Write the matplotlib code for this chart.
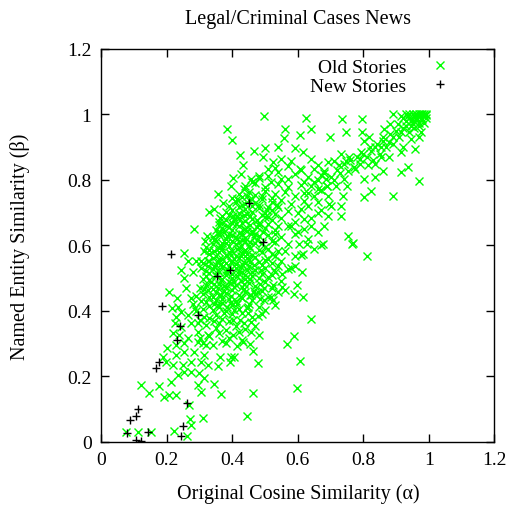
import numpy as np
import matplotlib
matplotlib.use('Agg')
import matplotlib.pyplot as plt

plt.rcParams['font.family'] = ['Liberation Serif', 'DejaVu Serif']

# new stories (black +)
new_stories = [(0.213, 0.574), (0.495, 0.611), (0.352, 0.507), (0.393, 0.525), (0.186, 0.416),
               (0.295, 0.388), (0.241, 0.355), (0.232, 0.312), (0.177, 0.245), (0.166, 0.226),
               (0.263, 0.118), (0.111, 0.100), (0.088, 0.065), (0.105, 0.077), (0.079, 0.027),
               (0.144, 0.029), (0.250, 0.047), (0.243, 0.018), (0.105, 0.006), (0.121, 0.001),
               (0.451, 0.730)]

# old stories, sparse lower-left part
old_low = [(0.121, 0.173), (0.147, 0.148), (0.177, 0.171), (0.192, 0.136), (0.208, 0.143),
           (0.228, 0.143), (0.269, 0.112), (0.272, 0.068), (0.274, 0.051), (0.310, 0.072),
           (0.075, 0.031), (0.111, 0.031), (0.152, 0.031), (0.223, 0.034), (0.262, 0.018),
           (0.201, 0.285), (0.187, 0.260), (0.208, 0.458), (0.231, 0.438), (0.216, 0.410),
           (0.243, 0.525), (0.225, 0.362), (0.218, 0.331), (0.238, 0.326), (0.252, 0.301),
           (0.228, 0.296), (0.198, 0.245), (0.218, 0.234), (0.233, 0.204), (0.253, 0.214),
           (0.213, 0.183), (0.249, 0.234), (0.274, 0.214), (0.304, 0.153), (0.294, 0.173),
           (0.315, 0.194), (0.299, 0.209), (0.274, 0.245), (0.304, 0.245), (0.325, 0.234),
           (0.284, 0.275), (0.253, 0.275), (0.228, 0.265), (0.264, 0.316), (0.294, 0.306),
           (0.320, 0.296), (0.315, 0.265), (0.294, 0.336), (0.325, 0.326), (0.243, 0.351),
           (0.274, 0.362), (0.264, 0.387), (0.243, 0.397), (0.228, 0.382), (0.259, 0.469),
           (0.253, 0.499), (0.279, 0.520), (0.304, 0.530), (0.233, 0.413), (0.274, 0.438)]

# old stories, sparse right of the core
old_mid = [(0.640, 0.375), (0.589, 0.324), (0.567, 0.298), (0.605, 0.248), (0.597, 0.163),
           (0.462, 0.148), (0.445, 0.079), (0.366, 0.145), (0.343, 0.176), (0.479, 0.240),
           (0.462, 0.277), (0.455, 0.299), (0.481, 0.326), (0.457, 0.336), (0.434, 0.304),
           (0.414, 0.293), (0.396, 0.260), (0.406, 0.260), (0.394, 0.243), (0.357, 0.232),
           (0.363, 0.260), (0.381, 0.301), (0.401, 0.326), (0.615, 0.443), (0.587, 0.451),
           (0.598, 0.479), (0.561, 0.464), (0.551, 0.472), (0.551, 0.512), (0.612, 0.520),
           (0.523, 0.433), (0.498, 0.433), (0.518, 0.443), (0.491, 0.389), (0.477, 0.385),
           (0.449, 0.413), (0.447, 0.392), (0.424, 0.372), (0.437, 0.362), (0.457, 0.367),
           (0.401, 0.372), (0.498, 0.469), (0.523, 0.479), (0.477, 0.458), (0.457, 0.448),
           (0.508, 0.504), (0.488, 0.525), (0.528, 0.525), (0.579, 0.530), (0.670, 0.601),
           (0.765, 0.604), (0.810, 0.568), (0.627, 0.604), (0.602, 0.604), (0.617, 0.574),
           (0.591, 0.568), (0.591, 0.538), (0.676, 0.604), (0.752, 0.630), (0.768, 0.606)]

# old stories, sparse upper part
old_up = [(0.328, 0.703), (0.282, 0.650), (0.323, 0.630), (0.317, 0.614), (0.252, 0.577),
          (0.315, 0.582), (0.266, 0.551), (0.289, 0.551), (0.304, 0.551), (0.325, 0.551),
          (0.498, 0.996), (0.625, 0.989), (0.383, 0.954), (0.398, 0.923), (0.561, 0.954),
          (0.557, 0.928), (0.605, 0.937), (0.640, 0.956), (0.423, 0.877), (0.465, 0.887),
          (0.501, 0.897), (0.540, 0.900), (0.592, 0.897), (0.617, 0.884), (0.493, 0.869),
          (0.434, 0.844), (0.427, 0.818), (0.401, 0.805), (0.396, 0.781), (0.457, 0.803),
          (0.355, 0.757), (0.371, 0.730), (0.413, 0.742), (0.435, 0.772), (0.363, 0.684),
          (0.401, 0.689), (0.343, 0.711), (0.549, 0.864), (0.579, 0.859), (0.640, 0.864),
          (0.650, 0.833), (0.605, 0.833), (0.539, 0.823), (0.508, 0.833), (0.482, 0.813),
          (0.518, 0.793), (0.569, 0.803), (0.620, 0.793), (0.661, 0.772), (0.383, 0.660),
          (0.362, 0.640), (0.347, 0.620), (0.444, 0.752), (0.459, 0.793), (0.525, 0.854)]

# old stories, diagonal band towards (1, 1)
old_band = [(0.734, 0.986), (0.795, 0.986), (0.698, 0.930), (0.747, 0.946), (0.795, 0.946),
            (0.890, 1.001), (0.915, 0.996), (0.864, 0.956), (0.905, 0.971), (0.930, 0.966),
            (0.940, 0.946), (0.915, 0.946), (0.976, 0.946), (0.971, 0.930), (0.946, 0.925),
            (0.890, 0.930), (0.879, 0.915), (0.859, 0.920), (0.854, 0.900), (0.834, 0.900),
            (0.823, 0.889), (0.803, 0.920), (0.818, 0.930), (0.920, 0.900), (0.956, 0.895),
            (0.915, 0.884), (0.879, 0.869), (0.854, 0.869), (0.936, 0.839), (0.915, 0.823),
            (0.969, 0.798), (0.890, 0.752), (0.859, 0.828), (0.834, 0.808), (0.803, 0.803),
            (0.834, 0.849), (0.813, 0.844), (0.791, 0.864), (0.793, 0.884), (0.803, 0.747),
            (0.823, 0.767), (0.773, 0.833), (0.757, 0.869), (0.732, 0.879), (0.711, 0.859),
            (0.727, 0.844), (0.747, 0.859), (0.752, 0.828), (0.742, 0.803), (0.717, 0.782),
            (0.691, 0.854), (0.681, 0.828), (0.686, 0.803), (0.737, 0.752), (0.691, 0.752),
            (0.696, 0.726), (0.732, 0.721), (0.732, 0.691), (0.691, 0.691),
            (0.62, 0.76), (0.64, 0.78), (0.66, 0.80), (0.68, 0.82), (0.70, 0.81), (0.72, 0.83),
            (0.74, 0.85), (0.76, 0.86), (0.78, 0.87), (0.80, 0.88), (0.82, 0.90), (0.84, 0.91),
            (0.86, 0.93), (0.88, 0.94), (0.90, 0.95), (0.92, 0.96), (0.71, 0.80), (0.73, 0.82),
            (0.77, 0.84), (0.79, 0.85), (0.81, 0.87), (0.85, 0.88), (0.87, 0.90), (0.89, 0.91),
            (0.91, 0.93), (0.65, 0.75), (0.67, 0.77), (0.69, 0.78), (0.63, 0.72), (0.66, 0.70),
            (0.62, 0.68), (0.64, 0.66), (0.60, 0.70), (0.58, 0.66), (0.60, 0.64), (0.63, 0.62),
            (0.66, 0.64), (0.68, 0.66), (0.70, 0.72), (0.75, 0.78), (0.83, 0.86), (0.88, 0.97)]

# old stories, near-identical pairs at (1, 1)
old_top = [(0.94, 0.99), (0.95, 1.0), (0.96, 1.0), (0.97, 1.0), (0.98, 1.0), (0.99, 1.0),
           (0.985, 0.995), (0.975, 0.99), (0.965, 0.985), (0.955, 0.98), (0.945, 0.98),
           (0.96, 0.99), (0.97, 0.975), (0.98, 0.985), (0.99, 0.99), (0.93, 0.98), (0.92, 0.99),
           (0.935, 0.995), (0.95, 0.97), (0.97, 0.965), (0.955, 0.96), (0.985, 0.975),
           (0.945, 0.965), (0.99, 0.998), (0.975, 1.0), (0.965, 0.998), (0.955, 0.995),
           (0.94, 1.0), (0.985, 1.0), (0.93, 1.0)]

# old stories, dense core
old_core = [(0.31, 0.302), (0.34, 0.296), (0.37, 0.308), (0.43, 0.311), (0.30, 0.318), (0.33, 0.324),
            (0.36, 0.331), (0.39, 0.318), (0.42, 0.334), (0.35, 0.347), (0.38, 0.341), (0.41, 0.352),
            (0.44, 0.345), (0.32, 0.356), (0.36, 0.362), (0.39, 0.368), (0.47, 0.352),
            (0.30, 0.372), (0.33, 0.379), (0.35, 0.386), (0.37, 0.374), (0.40, 0.389), (0.43, 0.392),
            (0.46, 0.380), (0.50, 0.402), (0.29, 0.398), (0.31, 0.405), (0.34, 0.401), (0.36, 0.412),
            (0.38, 0.398), (0.40, 0.418), (0.42, 0.406), (0.45, 0.421), (0.48, 0.413), (0.53, 0.418),
            (0.28, 0.422), (0.32, 0.428), (0.35, 0.432), (0.37, 0.424), (0.39, 0.436), (0.41, 0.429),
            (0.43, 0.438), (0.46, 0.432), (0.51, 0.441),
            (0.29, 0.446), (0.31, 0.452), (0.33, 0.441), (0.35, 0.458), (0.36, 0.447), (0.38, 0.455),
            (0.40, 0.462), (0.42, 0.449), (0.44, 0.458), (0.47, 0.452), (0.49, 0.461), (0.54, 0.456),
            (0.30, 0.471), (0.32, 0.478), (0.34, 0.468), (0.36, 0.482), (0.38, 0.474), (0.39, 0.488),
            (0.41, 0.479), (0.43, 0.472), (0.45, 0.486), (0.47, 0.476), (0.50, 0.488), (0.55, 0.492),
            (0.31, 0.498), (0.33, 0.494), (0.35, 0.505), (0.37, 0.497), (0.38, 0.508), (0.40, 0.501),
            (0.42, 0.512), (0.44, 0.496), (0.46, 0.506), (0.48, 0.499), (0.52, 0.509),
            (0.32, 0.521), (0.34, 0.528), (0.36, 0.517), (0.37, 0.534), (0.39, 0.522), (0.41, 0.531),
            (0.43, 0.519), (0.45, 0.536), (0.47, 0.524), (0.50, 0.531), (0.54, 0.538), (0.57, 0.528),
            (0.31, 0.545), (0.33, 0.552), (0.35, 0.541), (0.37, 0.558), (0.38, 0.546), (0.40, 0.553),
            (0.42, 0.561), (0.43, 0.544), (0.45, 0.556), (0.48, 0.549), (0.51, 0.558), (0.55, 0.552),
            (0.33, 0.572), (0.35, 0.566), (0.36, 0.579), (0.38, 0.571), (0.40, 0.582), (0.41, 0.568),
            (0.43, 0.577), (0.44, 0.586), (0.46, 0.571), (0.49, 0.579), (0.52, 0.574), (0.56, 0.582),
            (0.61, 0.571),
            (0.32, 0.596), (0.34, 0.603), (0.36, 0.592), (0.37, 0.608), (0.39, 0.597), (0.41, 0.604),
            (0.42, 0.591), (0.44, 0.612), (0.45, 0.599), (0.47, 0.607), (0.50, 0.596), (0.53, 0.611),
            (0.57, 0.603), (0.65, 0.588), (0.34, 0.624), (0.36, 0.631), (0.38, 0.619), (0.39, 0.636),
            (0.41, 0.626), (0.43, 0.634), (0.44, 0.621), (0.46, 0.638), (0.48, 0.627), (0.51, 0.633),
            (0.55, 0.624), (0.59, 0.636), (0.35, 0.648), (0.37, 0.654), (0.40, 0.646), (0.42, 0.659),
            (0.44, 0.651), (0.46, 0.645), (0.48, 0.662), (0.50, 0.652), (0.53, 0.647), (0.57, 0.658),
            (0.62, 0.649),
            (0.36, 0.672), (0.38, 0.678), (0.40, 0.667), (0.42, 0.683), (0.44, 0.674), (0.46, 0.681),
            (0.48, 0.669), (0.50, 0.686), (0.52, 0.676), (0.55, 0.682), (0.59, 0.671), (0.64, 0.684),
            (0.38, 0.701), (0.40, 0.709), (0.42, 0.698), (0.44, 0.712), (0.46, 0.703), (0.48, 0.714),
            (0.50, 0.699), (0.52, 0.708), (0.54, 0.717), (0.57, 0.704), (0.61, 0.712), (0.67, 0.708),
            (0.41, 0.731), (0.43, 0.724), (0.45, 0.738), (0.47, 0.728), (0.49, 0.741), (0.52, 0.733),
            (0.55, 0.739), (0.58, 0.727), (0.62, 0.736), (0.66, 0.731),
            (0.42, 0.756), (0.45, 0.762), (0.47, 0.753), (0.50, 0.767), (0.53, 0.758), (0.56, 0.764),
            (0.59, 0.752), (0.63, 0.761), (0.67, 0.768), (0.44, 0.782), (0.47, 0.789), (0.50, 0.779),
            (0.54, 0.786), (0.57, 0.777), (0.61, 0.784), (0.65, 0.792), (0.69, 0.781), (0.48, 0.806),
            (0.51, 0.812), (0.55, 0.803), (0.59, 0.817), (0.63, 0.809), (0.67, 0.814), (0.53, 0.836),
            (0.57, 0.842), (0.61, 0.831), (0.66, 0.846)]

# old stories, the most crowded middle of the core
old_core2 = [(0.33, 0.414), (0.355, 0.419), (0.385, 0.411), (0.415, 0.421), (0.445, 0.409),
             (0.34, 0.443), (0.37, 0.437), (0.395, 0.446), (0.425, 0.441), (0.455, 0.447), (0.485, 0.436),
             (0.325, 0.463), (0.355, 0.469), (0.375, 0.461), (0.405, 0.472), (0.435, 0.466),
             (0.465, 0.461), (0.52, 0.471),
             (0.335, 0.487), (0.365, 0.493), (0.395, 0.484), (0.425, 0.491), (0.455, 0.497), (0.485, 0.482),
             (0.33, 0.514), (0.35, 0.509), (0.38, 0.518), (0.40, 0.512), (0.42, 0.521), (0.44, 0.508),
             (0.46, 0.517), (0.49, 0.513), (0.53, 0.519),
             (0.345, 0.538), (0.365, 0.544), (0.39, 0.536), (0.41, 0.542), (0.44, 0.547), (0.465, 0.539),
             (0.49, 0.541), (0.52, 0.546),
             (0.34, 0.562), (0.36, 0.557), (0.385, 0.566), (0.405, 0.559), (0.425, 0.568), (0.445, 0.561),
             (0.47, 0.563), (0.50, 0.556), (0.53, 0.566),
             (0.345, 0.584), (0.37, 0.589), (0.39, 0.581), (0.415, 0.588), (0.435, 0.583), (0.455, 0.591),
             (0.48, 0.586), (0.51, 0.589), (0.54, 0.583),
             (0.35, 0.612), (0.38, 0.607), (0.40, 0.614), (0.42, 0.609), (0.43, 0.617), (0.455, 0.611),
             (0.475, 0.615), (0.49, 0.606), (0.52, 0.613),
             (0.355, 0.637), (0.375, 0.642), (0.40, 0.633), (0.42, 0.639), (0.445, 0.644), (0.47, 0.636),
             (0.495, 0.641), (0.53, 0.634),
             (0.36, 0.662), (0.39, 0.657), (0.41, 0.664), (0.43, 0.668), (0.455, 0.661), (0.475, 0.657),
             (0.51, 0.664), (0.54, 0.659),
             (0.37, 0.689), (0.39, 0.694), (0.415, 0.686), (0.435, 0.692), (0.455, 0.689), (0.49, 0.693),
             (0.51, 0.688), (0.53, 0.695),
             (0.39, 0.721), (0.42, 0.716), (0.44, 0.726), (0.46, 0.719), (0.48, 0.724), (0.51, 0.718),
             (0.535, 0.723),
             (0.40, 0.744), (0.43, 0.748), (0.46, 0.741), (0.49, 0.752), (0.52, 0.746)]

# old stories, filling the lower-left flank of the core
old_core3 = [(0.295, 0.362), (0.315, 0.381), (0.345, 0.368), (0.375, 0.392), (0.405, 0.401),
             (0.285, 0.408), (0.305, 0.431), (0.345, 0.421), (0.365, 0.448), (0.395, 0.428),
             (0.315, 0.468), (0.345, 0.482), (0.375, 0.476), (0.405, 0.489), (0.435, 0.481),
             (0.32, 0.507), (0.355, 0.524), (0.385, 0.529), (0.415, 0.507), (0.445, 0.524),
             (0.325, 0.537), (0.355, 0.553), (0.395, 0.549), (0.425, 0.533), (0.455, 0.548),
             (0.33, 0.586), (0.365, 0.598), (0.395, 0.571), (0.425, 0.598), (0.445, 0.574),
             (0.345, 0.617), (0.385, 0.627), (0.415, 0.618), (0.435, 0.649), (0.465, 0.624),
             (0.37, 0.667), (0.405, 0.679), (0.445, 0.697), (0.475, 0.676), (0.505, 0.708)]

old = np.array(old_low + old_mid + old_up + old_band + old_top + old_core + old_core2 + old_core3)
new = np.array(new_stories)

ticks = [0, 0.2, 0.4, 0.6, 0.8, 1, 1.2]
tick_labels = ['0', '0.2', '0.4', '0.6', '0.8', '1', '1.2']

fig = plt.figure(figsize=(5.14, 5.10), dpi=100)
ax = fig.add_axes([0.197, 0.132, 0.765, 0.770])

ax.plot(old[:, 0], old[:, 1], 'x', color='#00ff00', ms=5.5, mew=1.0, ls='none', label='Old Stories')
ax.plot(new[:, 0], new[:, 1], '+', color='black', ms=6, mew=1.0, ls='none', label='New Stories')

ax.set_xlim(0, 1.2)
ax.set_ylim(0, 1.2)
ax.set_xticks(ticks)
ax.set_xticklabels(tick_labels)
ax.set_yticks(ticks)
ax.set_yticklabels(tick_labels)
ax.tick_params(direction='in', top=True, right=True, length=6, width=1, labelsize=14, pad=7)
for s in ax.spines.values():
    s.set_linewidth(1)

ax.set_title('Legal/Criminal Cases News', fontsize=14.5, pad=19)
ax.set_xlabel('Original Cosine Similarity (α)', fontsize=14.5, labelpad=11)
ax.set_ylabel('Named Entity Similarity (β)', fontsize=14.5, labelpad=27)

ax.legend(loc='upper right', bbox_to_anchor=(0.92, 1.01), markerfirst=False, frameon=False,
          fontsize=14, handlelength=1.0, handletextpad=1.2, labelspacing=0.05, borderaxespad=0.3)

fig.savefig('out.png', dpi=100)
